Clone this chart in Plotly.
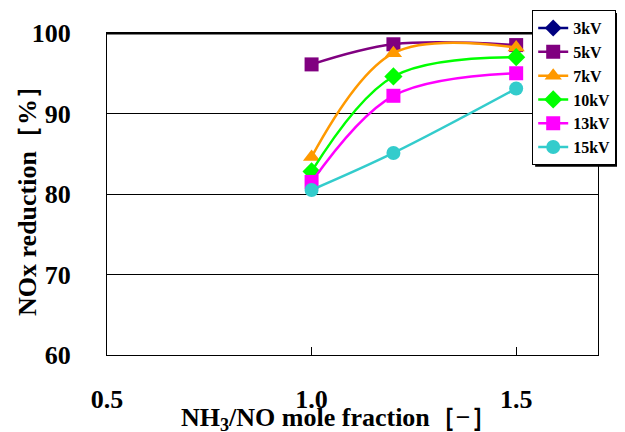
import plotly.graph_objects as go

x_vals = [1.0, 1.2, 1.5]
series_names = ["3kV", "5kV", "7kV", "10kV", "13kV", "15kV"]
v3 = [None, None, None]
v5 = [96.1, 98.6, 98.5]
v7 = [84.6, 97.5, 98.2]
v10 = [82.8, 94.6, 97.0]
v13 = [81.5, 92.2, 95.0]
v15 = [80.5, 85.1, 93.1]
x_ticks = [0.5, 1.0, 1.5]
x_tick_labels = ["0.5", "1.0", "1.5"]
y_ticks = [60, 70, 80, 90, 100]

colors = ["#000080", "#800080", "#FF9900", "#00FF00", "#FF00FF", "#33CCCC"]
symbols = ["diamond", "square", "triangle-up", "diamond", "square", "circle"]
sizes = [13, 14, 15, 14, 14, 14]
values = [v3, v5, v7, v10, v13, v15]

FONT = "Liberation Serif"

fig = go.Figure()
for name, vals, c, s, sz in zip(series_names, values, colors, symbols, sizes):
    fig.add_trace(go.Scatter(
        x=x_vals, y=vals, name=name, mode="lines+markers",
        line=dict(color=c, width=2.5, shape="spline", smoothing=1.0),
        marker=dict(color=c, symbol=s, size=sz, line=dict(width=0)),
    ))

fig.update_layout(
    width=617, height=424,
    margin=dict(l=99, r=27, t=25, b=77, autoexpand=False),
    paper_bgcolor="white", plot_bgcolor="white",
    font=dict(family=FONT, size=26, color="black", weight="bold"),
    showlegend=True,
    legend=dict(
        x=0.866, y=1.071, xanchor="left", yanchor="top",
        bgcolor="white", bordercolor="black", borderwidth=1,
        font=dict(family=FONT, size=16, color="black", weight="bold"),
        tracegroupgap=0, itemwidth=30,
    ),
    xaxis=dict(
        range=[0.5, 1.7], tickvals=x_ticks, ticktext=x_tick_labels,
        showgrid=False, zeroline=False,
        showline=True, linecolor="black", linewidth=1, mirror=True,
        ticks="inside", ticklen=8, tickcolor="black", tickwidth=1,
        ticklabelstandoff=21,
        tickfont=dict(family=FONT, size=26, color="black", weight="bold"),
    ),
    yaxis=dict(
        range=[60, 100], tickvals=y_ticks,
        showgrid=True, gridcolor="black", gridwidth=1.3, zeroline=False,
        showline=True, linecolor="black", linewidth=1, mirror=True,
        ticks="", ticklabelstandoff=30,
        tickfont=dict(family=FONT, size=26, color="black", weight="bold"),
    ),
    shapes=[
        dict(type="line", xref="paper", yref="y", x0=0, x1=1, y0=100, y1=100,
             line=dict(color="black", width=3)),
        dict(type="rect", xref="paper", yref="paper", x0=0.872, x1=1.2, y0=0.585, y1=1.062,
             fillcolor="black", line=dict(width=0), layer="above"),
    ],
    annotations=[
        dict(text="NH<sub>3</sub>/NO mole fraction［−］", xref="paper", yref="paper",
             x=0.4725, y=-0.2, xanchor="center", yanchor="middle", showarrow=False,
             font=dict(family=FONT, size=26, color="black", weight="bold")),
        dict(text="NOx reduction［%］", xref="paper", yref="paper", textangle=-90,
             x=-0.163, y=0.5, xanchor="center", yanchor="middle", showarrow=False,
             font=dict(family=FONT, size=26, color="black", weight="bold")),
    ],
)

fig.write_html("out.html")
